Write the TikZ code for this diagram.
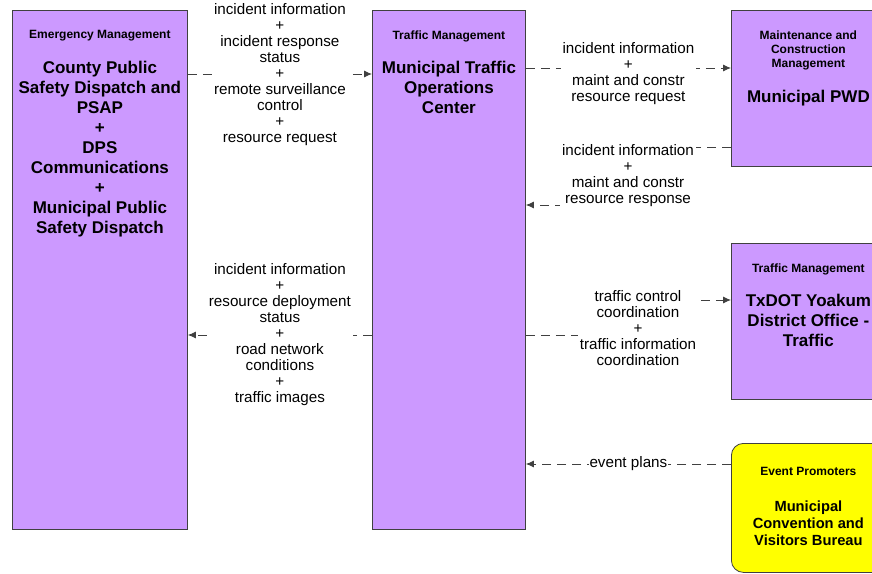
\documentclass[tikz,border=0pt]{standalone}
\usepackage{fontspec}
\setmainfont{Liberation Sans}
\usetikzlibrary{positioning, arrows.meta}
\definecolor{boxpurple}{RGB}{204,153,255}
\definecolor{boxyellow}{RGB}{255,255,0}
\definecolor{linegray}{RGB}{64,64,64}
\tikzset{
>={Latex[length=8pt,width=7pt]}, % small filled arrow heads
box/.style={draw=linegray, fill=boxpurple, line width=0.8pt, anchor=north west, inner sep=0pt}, % the system boxes
cat/.style={font=\bfseries\fontsize{12}{14}\selectfont, align=center, inner sep=0pt}, % small heading in a box
ent/.style={font=\bfseries\fontsize{17}{20}\selectfont, align=center, inner sep=0pt}, % big name in a box
lbl/.style={font=\fontsize{15.2}{16}\selectfont, align=center, fill=white, inner sep=2pt}, % flow labels
flow/.style={->, draw=linegray, dash pattern=on 9pt off 6pt, line width=0.9pt}, % dashed flows
}

\begin{document}
\begin{tikzpicture}[x=1pt, y=-1pt]
        \useasboundingbox (0,0) rectangle (872,573);

        % boxes
        \node[box, minimum width=175pt, minimum height=519pt] (em) at (12,10) {};
        \node[box, minimum width=153pt, minimum height=519pt] (tmc) at (372,10) {};
        \node[box, minimum width=154pt, minimum height=156pt] (pwd) at (731,10) {};
        \node[box, minimum width=154pt, minimum height=156pt] (txdot) at (731,243) {};
        \node[box, fill=boxyellow, rounded corners=12pt, minimum width=154pt, minimum height=129pt] (event) at (731,443) {};

        % texts in the boxes
        \node[cat, below=20.5pt of em.north] (emcat) {Emergency Management};
        \node[ent, below=19pt of emcat] (emname) {County Public\\Safety Dispatch and\\PSAP\\+\\DPS\\Communications\\+\\Municipal Public\\Safety Dispatch};

        \node[cat, below=20.5pt of tmc.north] (tmccat) {Traffic Management};
        \node[ent, below=19pt of tmccat] (tmcname) {Municipal Traffic\\Operations\\Center};

        \node[cat, below=20.5pt of pwd.north] (pwdcat) {Maintenance and\\Construction\\Management};
        \node[ent, below=20pt of pwdcat] (pwdname) {Municipal PWD};

        \node[cat, below=20.5pt of txdot.north] (txdotcat) {Traffic Management};
        \node[ent, below=19pt of txdotcat] (txdotname) {TxDOT Yoakum\\District Office -\\Traffic};

        \node[cat, below=24.5pt of event.north] (eventcat) {Event Promoters};
        \node[ent, font=\bfseries\fontsize{14.7}{17}\selectfont, below=24pt of eventcat] (eventname) {Municipal\\Convention and\\Visitors Bureau};

        % flows
        \draw[flow] (em.east |- 0,74) -- (tmc.west |- 0,74)
            node[lbl, midway, yshift=-1pt] {incident information\\+\\incident response\\status\\+\\remote surveillance\\control\\+\\resource request};
        \draw[flow] (tmc.east |- 0,68) -- (pwd.west |- 0,68)
            node[lbl, midway, yshift=-6pt] {incident information\\+\\maint and constr\\resource request};
        \draw[flow] (pwd.west |- 0,147) -| (628,176)
            node[lbl] {incident information\\+\\maint and constr\\resource response} |- (tmc.east |- 0,205);
        \draw[flow] (tmc.east |- 0,335) -| (638,328)
            node[lbl] {traffic control\\coordination\\+\\traffic information\\coordination} |- (txdot.west |- 0,300);
        \draw[flow] (tmc.west |- 0,335) -- (em.east |- 0,335)
            node[lbl, midway] {incident information\\+\\resource deployment\\status\\+\\road network\\conditions\\+\\traffic images};
        \draw[flow] (event.west |- 0,464) -- (tmc.east |- 0,464)
            node[lbl, midway, inner sep=1pt] {event plans};
\end{tikzpicture}
\end{document}
